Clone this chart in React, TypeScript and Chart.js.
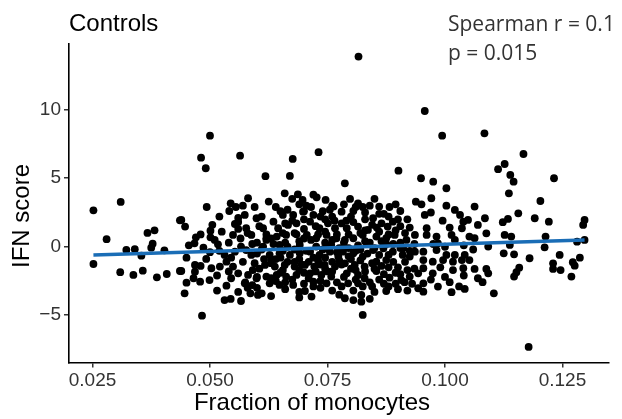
import React, { useEffect, useRef } from "react";
import { Chart, registerables } from "chart.js";

Chart.register(...registerables);

// Fraction of monocytes (x) and IFN score (y)
const monocyteFraction: number[] = [
  0.0252, 0.0310, 0.0280, 0.0252, 0.0309, 0.0337, 0.0357, 0.0387, 0.0408, 0.0322, 0.0340, 0.0354, 0.0367, 0.0382, 0.0378, 0.0375, 0.0403, 0.0436, 0.0436,
  0.0581, 0.0544, 0.0493, 0.0541, 0.0574, 0.0439, 0.0447, 0.0501, 0.0501, 0.0553, 0.0560, 0.0549, 0.0577, 0.0588, 0.0599, 0.0470, 0.0467, 0.0486, 0.0517, 0.0450,
  0.0492, 0.0468, 0.0468, 0.0439, 0.0503, 0.0521, 0.0535, 0.0531, 0.0553, 0.0566, 0.0577, 0.0588, 0.0549, 0.0560, 0.0581, 0.0591, 0.0599, 0.0499, 0.0479, 0.0450,
  0.0535, 0.0574, 0.0446, 0.0531, 0.0544, 0.0566, 0.0586, 0.0602, 0.0483,
  0.0659, 0.0687, 0.0697, 0.0727, 0.0746, 0.0763,
  0.0610, 0.0698, 0.0677, 0.0720, 0.0655, 0.0635, 0.0613, 0.0645, 0.0666, 0.0684, 0.0713, 0.0733, 0.0751, 0.0766,
  0.0620, 0.0642, 0.0662, 0.0684, 0.0706, 0.0726, 0.0748, 0.0769,
  0.0627, 0.0648, 0.0670, 0.0691, 0.0713, 0.0733, 0.0755, 0.0773,
  0.0617, 0.0638, 0.0659, 0.0680, 0.0702, 0.0722, 0.0744, 0.0766,
  0.0620, 0.0642, 0.0662, 0.0684, 0.0713, 0.0737, 0.0758,
  0.0627, 0.0648, 0.0677, 0.0720, 0.0748,
  0.0610, 0.0702, 0.0716,
  0.0648, 0.0691, 0.0726, 0.0758, 0.0613,
  0.0640, 0.0700, 0.0745, 0.0660, 0.0705, 0.0745, 0.0630, 0.0680, 0.0730, 0.0760,
  0.0650, 0.0700, 0.0750, 0.0770, 0.0640, 0.0700, 0.0620, 0.0680, 0.0730, 0.0770,
  0.0500, 0.0481, 0.0491, 0.0564, 0.0618, 0.0670, 0.0676, 0.0731,
  0.0816, 0.0957, 0.0994, 0.1084, 0.1167, 0.1127, 0.1113, 0.1139, 0.1146, 0.1232, 0.0901, 0.0949, 0.0975, 0.1003, 0.0787,
  0.0798, 0.0815, 0.0840, 0.0860, 0.0882, 0.0905, 0.0938, 0.0780, 0.0805, 0.0847,
  0.0865, 0.0878, 0.0889, 0.0791, 0.0815, 0.0836, 0.0825, 0.0805, 0.0787, 0.0854,
  0.0875, 0.0893, 0.0918, 0.0936, 0.0847, 0.0869, 0.0889, 0.0911, 0.0936, 0.0783,
  0.0805, 0.0825, 0.0787, 0.0808, 0.0829, 0.0854, 0.0875, 0.0925, 0.0791, 0.0815,
  0.0854, 0.0882, 0.0907, 0.0925, 0.0943, 0.0794, 0.0815, 0.0829, 0.0914, 0.0875,
  0.0943, 0.0787, 0.0805, 0.0822, 0.0822, 0.0825,
  0.0805, 0.0830, 0.0850, 0.0870, 0.0905, 0.0935, 0.0845, 0.0870, 0.0820, 0.0800, 0.0915, 0.0935, 0.0900,
  0.0971, 0.0950, 0.1003, 0.1021, 0.1063, 0.1032, 0.0957, 0.1039, 0.1049, 0.1085,
  0.1070, 0.1036, 0.1088, 0.0961, 0.0961, 0.0982, 0.1014, 0.1052, 0.1063, 0.0985,
  0.1021, 0.1092, 0.0954, 0.0982, 0.1003, 0.1021, 0.1042, 0.0954, 0.0974, 0.0996,
  0.1017, 0.1036, 0.1052, 0.0954, 0.0974, 0.1017, 0.1039, 0.1063, 0.1088, 0.1092,
  0.0954, 0.0954, 0.0985, 0.1010, 0.1014, 0.1042, 0.1080, 0.1104,
  0.1136, 0.1203, 0.1156, 0.1191, 0.1221, 0.1134, 0.1123, 0.1297, 0.1294, 0.1127,
  0.1141, 0.1138, 0.1214, 0.1212, 0.1281, 0.1297, 0.1125, 0.1147, 0.1180, 0.1244,
  0.1230, 0.1272, 0.1287, 0.1276, 0.1158, 0.1152, 0.1147, 0.1230, 0.1246, 0.1269,
  0.1178,
  // denser core
  0.0555, 0.0580, 0.0600, 0.0615, 0.0630, 0.0575, 0.0600, 0.0620, 0.0560, 0.0610,
  0.0665, 0.0690, 0.0715, 0.0740, 0.0760, 0.0675, 0.0700, 0.0725, 0.0745, 0.0655,
  0.0690, 0.0715, 0.0740, 0.0760, 0.0655, 0.0680, 0.0720, 0.0745, 0.0770, 0.0640,
  0.0665, 0.0690, 0.0710, 0.0735, 0.0780, 0.0655, 0.0690, 0.0725, 0.0760, 0.0630,
  0.0675, 0.0710, 0.0735, 0.0660, 0.0690, 0.0735, 0.0760, 0.0630, 0.0760, 0.0780,
  0.0775, 0.0785,
  0.0810, 0.0830, 0.0860, 0.0880, 0.0900, 0.0820, 0.0845, 0.0860, 0.0880, 0.0905,
  0.0795, 0.0815, 0.0840, 0.0865, 0.0890, 0.0795, 0.0835, 0.0860, 0.0880, 0.0910,
  0.0795, 0.0820, 0.0845, 0.0865, 0.0890, 0.0915, 0.0800, 0.0830, 0.0870, 0.0895,
  0.0920, 0.0810, 0.0840, 0.0860, 0.0895, 0.0930, 0.0805, 0.0850, 0.0900,
  0.0455, 0.0480, 0.0510, 0.0525, 0.0540, 0.0565, 0.0590, 0.0500, 0.0545, 0.0570,
  0.0595, 0.0480, 0.0515, 0.0545, 0.0590, 0.0515, 0.0560, 0.0520, 0.0560, 0.0595,
  0.0970, 0.0995, 0.1010, 0.0975, 0.1000, 0.1040, 0.1060, 0.0990, 0.1000, 0.1040,
  0.1070, 0.0970, 0.1030,
  0.0625, 0.0650, 0.0675, 0.0705, 0.0720, 0.0755, 0.0785, 0.0800, 0.0825, 0.0850, 0.0870, 0.0895, 0.0920,
  0.0605, 0.0630, 0.0660, 0.0700, 0.0735, 0.0765, 0.0790, 0.0830, 0.0855, 0.0895, 0.0925,
  0.0600, 0.0635, 0.0665, 0.0700, 0.0750, 0.0785, 0.0810, 0.0830, 0.0875, 0.0905, 0.0925,
  0.0605, 0.0650, 0.0695, 0.0745, 0.0775, 0.0810, 0.0850, 0.0880, 0.0905,
  0.0600, 0.0660, 0.0720, 0.0780, 0.0825, 0.0880, 0.0920, 0.0690, 0.0775, 0.0840,
  0.0520, 0.0505, 0.0540, 0.0580, 0.0465, 0.0570,
];

const ifnScore: number[] = [
  2.66, 3.27, 0.55, -1.26, -1.86, -2.06, -1.75, -2.23, -1.99, -0.23, -0.18, -0.65, 1.01, 1.20, 0.22, -0.07, -0.26, 1.93, -1.77,
  3.54, 3.17, 2.90, 2.61, 2.32, 1.96, 1.47, 1.17, 0.69, 1.66, 1.30, 0.86, 1.35, 0.86, 2.08, 0.69, 0.25, -0.07, 0.18, -0.80,
  -0.89, -1.33, -1.82, -1.77, -1.57, -1.45, -1.09, -0.60, -0.36, 0.01, -0.24, -0.60, -1.45, -1.94, -2.06, -1.70, -2.30, -2.43, -2.55, -2.62,
  -2.84, -2.67, -3.40, -3.89, -3.81, -3.96, -3.40, -3.52, -5.03,
  3.90, 3.83, 3.42, 3.61, 3.42, 2.93,
  2.20, 2.56, 2.32, 2.32, 2.32, 1.83, 1.35, 1.35, 1.59, 1.71, 1.83, 1.35, 1.71, 1.35,
  0.62, 0.74, 0.86, 0.91, 0.86, 0.62, 0.86, 0.62,
  -0.60, -0.48, -0.60, -0.48, -0.36, -0.60, -0.36, -0.72,
  -1.33, -1.45, -1.33, -1.45, -1.33, -1.45, -1.33, -1.45,
  -2.18, -2.06, -2.18, -2.06, -1.94, -2.06, -2.18,
  -2.67, -2.79, -2.79, -2.55, -2.67,
  -3.40, -3.23, -3.64,
  0.13, 0.13, 0.01, 0.13, 0.01,
  2.9, 2.6, 2.0, 0.3, -0.3, 0.3, -1.0, -1.1, -1.0, -1.1,
  -1.9, -1.9, -1.8, -2.6, -2.5, -2.7, 0.9, 1.0, 0.9, 0.9,
  8.11, 6.50, 5.73, 6.65, 5.15, 5.17, 6.41, 6.90,
  13.88, 9.91, 8.11, 8.28, 6.77, 6.04, 5.66, 5.24, 4.75, 5.00, 5.55, 5.00, 4.75, 4.27, 4.63,
  3.49, 3.17, 3.00, 2.93, 2.90, 2.61, 3.29, 2.56, 2.61, 2.08,
  1.71, 1.47, 1.83, 1.35, 1.47, 1.23, 0.86, 0.62, 0.50, 0.74,
  0.62, 0.86, 0.50, 0.86, -0.24, -0.11, -0.36, -0.11, -0.36, -0.36,
  -0.48, -0.72, -1.21, -1.33, -1.45, -1.09, -0.97, -0.72, -1.94, -2.06,
  -1.77, -2.26, -2.43, -2.18, -1.94, -2.67, -2.67, -2.30, -2.59, -3.23,
  -3.03, -3.76, -3.89, -3.52, -4.01, -4.98,
  1.8, 2.0, -0.1, 0.1, -0.1, 0.2, -2.9, -2.7, -0.2, -0.9, 1.0, -1.6, -1.5,
  3.54, 3.10, 3.00, 2.69, 2.93, 2.32, 2.32, 1.83, 1.96, 2.08,
  1.59, 1.35, 0.98, 1.35, 0.86, 0.74, 0.86, 0.74, 0.62, 0.25,
  0.50, 0.01, -0.36, -0.24, -0.60, -0.60, -0.60, -0.97, -1.09, -0.97,
  -1.09, -0.97, -0.97, -1.57, -1.94, -1.70, -1.57, -1.62, -1.62, -1.94,
  -2.67, -3.28, -2.91, -2.59, -3.32, -3.08, -2.59, -3.40,
  3.90, 3.34, 2.44, 2.08, 1.83, 2.03, 1.79, 1.96, 1.59, 0.86,
  0.74, 0.13, 0.74, -0.04, 0.37, 0.50, -0.48, -0.55, -0.84, -0.60,
  -1.21, -1.13, -0.80, -1.38, -1.53, -1.86, -2.18, -1.62, -1.70, -2.18,
  -7.31,
  // denser core
  2.9, 1.0, 0.3, -0.9, -1.2, -2.6, -3.0, 0.5, 1.8, -0.2,
  2.7, 3.1, 2.9, 2.6, 2.2, 1.9, 1.3, 1.5, 1.1, 1.0,
  0.4, 0.5, -0.2, 0.5, -0.3, -0.2, -0.8, -0.8, -0.4, -0.9,
  -1.1, -0.9, -1.1, -1.3, -1.3, -1.7, -1.7, -1.8, -1.8, -2.3,
  -2.4, -2.3, -2.5, -3.1, -3.3, -3.0, -3.2, -3.6, 3.0, 1.7,
  -0.1, -2.2,
  2.9, 2.5, 2.4, 2.2, 2.0, 1.0, 1.6, 1.1, 0.9, 1.5,
  0.9, 0.1, 0.3, 0.4, 0.2, -0.1, -0.5, -0.6, -0.6, -0.6,
  -0.7, -1.0, -1.2, -1.4, -1.1, -1.1, -1.6, -1.8, -2.0, -1.9,
  -1.7, -2.4, -2.6, -2.4, -2.7, -2.7, -3.2, -3.3, -3.1,
  0.1, 0.9, 0.5, 1.1, 0.3, 0.6, 0.2, -0.4, -0.8, -1.1,
  -1.2, -1.4, -2.1, -2.3, -2.8, -3.2, -3.3, 2.2, 2.1, 2.9,
  2.5, 1.9, 1.4, 0.2, 0.0, 0.1, -0.2, -1.5, -2.2, -2.1,
  -2.3, -2.4, -2.9,
  3.3, 2.6, 3.5, 3.0, 3.8, 2.7, 3.1, 2.2, 2.9, 3.5, 2.4, 3.1, 2.0,
  1.5, 0.6, 1.7, 2.0, 2.2, 1.9, 1.9, 1.2, 1.4, 1.2, 1.4,
  -0.5, 0.2, 0.0, 0.6, -0.1, 0.3, -0.3, 0.4, 0.2, 0.3, -0.3,
  -1.6, -0.8, -1.3, -1.6, -1.0, -1.7, -1.6, -1.5, -2.0,
  -2.2, -2.6, -2.9, -2.9, -2.9, -2.9, -3.2, -3.7, -3.5, -3.8,
  -0.3, 1.6, -1.8, -3.0, -2.3, 3.0,
];

// Linear fit line end points
const fitFraction: number[] = [0.0252, 0.1297];
const fitScore: number[] = [-0.6, 0.5];

const xTickValues: number[] = [0.025, 0.05, 0.075, 0.1, 0.125];
const yTickValues: number[] = [-5, 0, 5, 10];

const plotTitle = "Controls";
const statLines: string[] = ["Spearman r = 0.1", "p = 0.015"];
const xAxisTitle = "Fraction of monocytes";
const yAxisTitle = "IFN score";

export default function App() {
  const canvasRef = useRef<HTMLCanvasElement | null>(null);

  useEffect(() => {
    document.body.style.margin = "0";
    const canvas = canvasRef.current;
    if (!canvas) return;

    const points = monocyteFraction.map((x, i) => ({ x, y: ifnScore[i] }));
    const fitPoints = fitFraction.map((x, i) => ({ x, y: fitScore[i] }));

    const textPlugin = {
      id: "panelTexts",
      afterDraw(chart: any) {
        const ctx = chart.ctx as CanvasRenderingContext2D;
        ctx.save();
        ctx.textBaseline = "alphabetic";
        ctx.textAlign = "left";
        ctx.fillStyle = "#000";
        ctx.font = "24px 'Liberation Sans', Arial, sans-serif";
        ctx.fillText(plotTitle, 69, 31);
        ctx.fillStyle = "#333";
        ctx.font = "21px 'Open Sans', sans-serif";
        ctx.fillText(statLines[0], 448, 31);
        ctx.fillText(statLines[1], 448, 60);
        // axis titles
        ctx.fillStyle = "#000";
        ctx.font = "24px 'Liberation Sans', Arial, sans-serif";
        ctx.textAlign = "center";
        ctx.textBaseline = "middle";
        ctx.fillText(xAxisTitle, 312, 403.5);
        ctx.translate(22, 216);
        ctx.rotate(-Math.PI / 2);
        ctx.fillText(yAxisTitle, 0, 0);
        ctx.restore();
      },
    };

    const chart = new Chart(canvas, {
      type: "scatter",
      data: {
        datasets: [
          {
            label: "fit",
            data: fitPoints,
            showLine: true,
            borderColor: "#1a6db6",
            borderWidth: 3.5,
            pointRadius: 0,
            fill: false,
          } as any,
          {
            label: "samples",
            data: points,
            backgroundColor: "#000",
            borderWidth: 0,
            pointRadius: 3.9,
            pointHoverRadius: 3.9,
          },
        ],
      },
      options: {
        responsive: false,
        animation: false,
        events: [],
        layout: { padding: { top: 44, right: 13, left: 0, bottom: 0 } },
        plugins: {
          legend: { display: false },
          tooltip: { enabled: false },
          title: { display: false },
        },
        scales: {
          x: {
            type: "linear",
            min: 0.02,
            max: 0.1349,
            afterBuildTicks: (scale: any) => {
              scale.ticks = xTickValues.map((v) => ({ value: v }));
            },
            afterFit: (scale: any) => {
              scale.height = 56.5;
            },
            ticks: {
              autoSkip: false,
              maxRotation: 0,
              padding: 2,
              color: "#333",
              font: { family: "'Liberation Sans', Arial, sans-serif", size: 19 },
              callback: (v: any) => Number(v).toFixed(3),
            },
            grid: {
              display: true,
              drawOnChartArea: false,
              drawTicks: true,
              tickLength: 5,
              color: "#333",
              lineWidth: 1.5,
            },
            border: { display: true, color: "#000", width: 1.6 },
            title: { display: false },
          },
          y: {
            type: "linear",
            min: -8.45,
            max: 14.8,
            afterBuildTicks: (scale: any) => {
              scale.ticks = yTickValues.map((v) => ({ value: v }));
            },
            afterFit: (scale: any) => {
              scale.width = 69;
            },
            ticks: {
              autoSkip: false,
              padding: 3,
              color: "#333",
              font: { family: "'Liberation Sans', Arial, sans-serif", size: 19 },
              callback: (v: any) => (Number(v) < 0 ? "\u2212" + Math.abs(Number(v)) : String(v)),
            },
            grid: {
              display: true,
              drawOnChartArea: false,
              drawTicks: true,
              tickLength: 5,
              color: "#333",
              lineWidth: 1.5,
            },
            border: { display: true, color: "#000", width: 1.6 },
            title: { display: false },
          },
        },
      },
      plugins: [textPlugin],
    });

    return () => chart.destroy();
  }, []);

  return (
    <div style={{ width: 622, height: 419 }}>
      <canvas ref={canvasRef} width={622} height={419} style={{ display: "block" }} />
    </div>
  );
}
